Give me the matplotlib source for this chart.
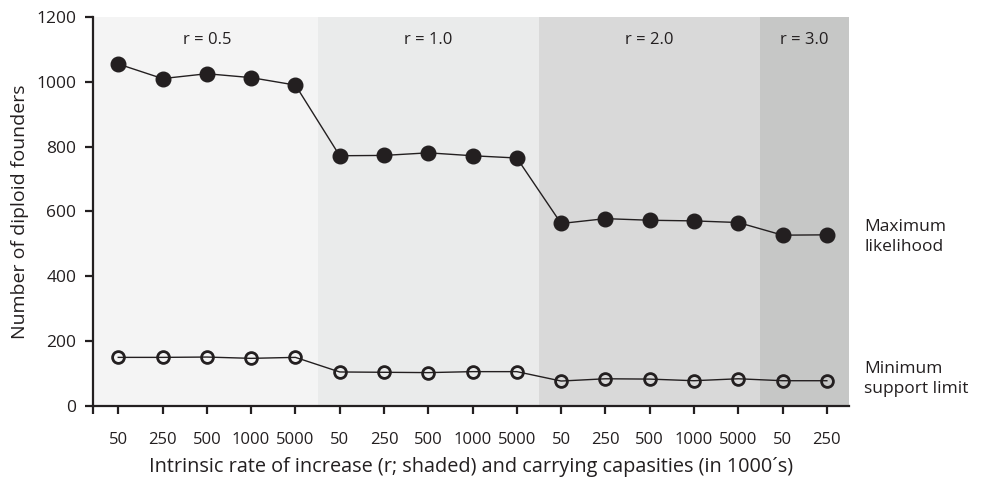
import matplotlib
matplotlib.use("Agg")
import matplotlib.pyplot as plt
import numpy as np

plt.rcParams['font.family'] = ['Open Sans', 'DejaVu Sans']

# Data
tick_labels = ["50", "250", "500", "1000", "5000",
               "50", "250", "500", "1000", "5000",
               "50", "250", "500", "1000", "5000",
               "50", "250"]
groups = ["r = 0.5", "r = 1.0", "r = 2.0", "r = 3.0"]
group_sizes = [5, 5, 5, 2]
group_colors = ["#f4f4f4", "#eaebeb", "#d9d9d9", "#c6c7c6"]
max_likelihood = [1055, 1010, 1025, 1013, 990,
                  772, 773, 781, 772, 765,
                  563, 578, 573, 571, 566,
                  527, 528]
min_support = [150, 150, 151, 147, 150,
               105, 104, 103, 106, 106,
               77, 84, 83, 78, 84,
               78, 78]

ink = "#231f20"
fig = plt.figure(figsize=(9.82, 4.88), dpi=100)
ax = fig.add_axes([93/982, 1-406/488, (849-93)/982, (406-17)/488])

x = np.arange(len(tick_labels))
xmin, xmax = -0.57, len(tick_labels) - 0.5
ax.set_xlim(xmin, xmax)
ax.set_ylim(0, 1200)

# shaded groups
start = 0
for g, n, c in zip(groups, group_sizes, group_colors):
    left = xmin if start == 0 else start - 0.5
    right = start + n - 0.5
    ax.axvspan(left, right, color=c, lw=0, zorder=0)
    ax.text(start + (n - 1) / 2, 1130, g, ha='center', va='center',
            fontsize=12, color=ink)
    start += n

ax.plot(x, max_likelihood, '-o', color=ink, lw=1, ms=10.5,
        mfc=ink, mec=ink, zorder=3)
ax.plot(x, min_support, '-o', color=ink, lw=1, ms=8.5,
        mfc='none', mec=ink, mew=2, zorder=3)

for s in ['top', 'right']:
    ax.spines[s].set_visible(False)
for s in ['left', 'bottom']:
    ax.spines[s].set_linewidth(1.6)
    ax.spines[s].set_color(ink)

ax.set_xticks(list(x) + [xmin])
ax.set_xticklabels(tick_labels + [""])
ax.set_yticks([0, 200, 400, 600, 800, 1000, 1200])
ax.tick_params(axis='x', length=6, width=1.6, pad=13, labelsize=12,
               colors=ink)
ax.tick_params(axis='y', length=6, width=1.6, pad=6, labelsize=12.5,
               colors=ink)

ax.set_ylabel("Number of diploid founders", fontsize=14, color=ink,
              labelpad=5)
ax.set_xlabel("Intrinsic rate of increase (r; shaded) and carrying capasities (in 1000\u00b4s)",
              fontsize=14.3, color=ink, labelpad=6)

fig.text(864/982, 1-237/488, "Maximum\nlikelihood", ha='left', va='center',
         fontsize=12.5, color=ink, linespacing=1.35)
fig.text(864/982, 1-379/488, "Minimum\nsupport limit", ha='left', va='center',
         fontsize=12.5, color=ink, linespacing=1.35)

fig.savefig("out.png", dpi=100)
